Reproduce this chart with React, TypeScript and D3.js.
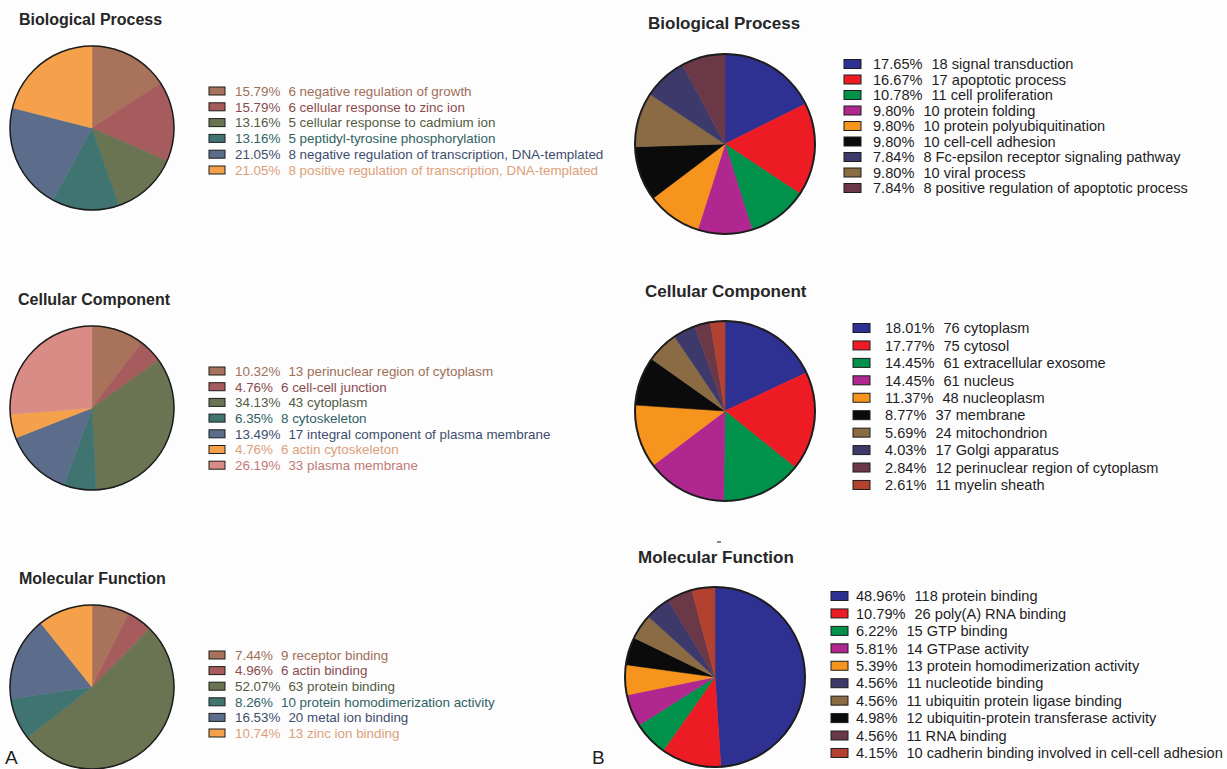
import React from 'react';
import * as d3 from 'd3';

const W = 1227;
const H = 769;

// ---------- Panel A (muted palette, legend text tinted per category) ----------
const mutedFill = ['#a8735a', '#a65b5c', '#6b7452', '#3f7471', '#5b6d8b', '#f5a14c', '#d98b86'];
const mutedText = ['#a06f58', '#8a4b4d', '#525c3e', '#2f6262', '#3d4d6c', '#dca078', '#c27b75'];

const aBpTerms = [
  'negative regulation of growth',
  'cellular response to zinc ion',
  'cellular response to cadmium ion',
  'peptidyl-tyrosine phosphorylation',
  'negative regulation of transcription, DNA-templated',
  'positive regulation of transcription, DNA-templated',
];
const aBpCounts = [6, 6, 5, 5, 8, 8];
const aBpPercents = [15.79, 15.79, 13.16, 13.16, 21.05, 21.05];

const aCcTerms = [
  'perinuclear region of cytoplasm',
  'cell-cell junction',
  'cytoplasm',
  'cytoskeleton',
  'integral component of plasma membrane',
  'actin cytoskeleton',
  'plasma membrane',
];
const aCcCounts = [13, 6, 43, 8, 17, 6, 33];
const aCcPercents = [10.32, 4.76, 34.13, 6.35, 13.49, 4.76, 26.19];

const aMfTerms = [
  'receptor binding',
  'actin binding',
  'protein binding',
  'protein homodimerization activity',
  'metal ion binding',
  'zinc ion binding',
];
const aMfCounts = [9, 6, 63, 10, 20, 13];
const aMfPercents = [7.44, 4.96, 52.07, 8.26, 16.53, 10.74];

// ---------- Panel B (vivid palette) ----------
const vivid: Record<string, string> = {
  blue: '#2e3192',
  red: '#ed1c24',
  green: '#00914a',
  magenta: '#b0288f',
  orange: '#f7941d',
  black: '#0b0b0b',
  navy: '#3d3a6b',
  tan: '#8b6b44',
  maroon: '#6b3848',
  brick: '#b3412f',
};

const bBpTerms = [
  'signal transduction',
  'apoptotic process',
  'cell proliferation',
  'protein folding',
  'protein polyubiquitination',
  'cell-cell adhesion',
  'Fc-epsilon receptor signaling pathway',
  'viral process',
  'positive regulation of apoptotic process',
];
const bBpCounts = [18, 17, 11, 10, 10, 10, 8, 10, 8];
const bBpPercents = [17.65, 16.67, 10.78, 9.8, 9.8, 9.8, 7.84, 9.8, 7.84];
const bBpColors = ['blue', 'red', 'green', 'magenta', 'orange', 'black', 'navy', 'tan', 'maroon'];
const bBpPieOrder = [0, 1, 2, 3, 4, 5, 7, 6, 8];

const bCcTerms = [
  'cytoplasm',
  'cytosol',
  'extracellular exosome',
  'nucleus',
  'nucleoplasm',
  'membrane',
  'mitochondrion',
  'Golgi apparatus',
  'perinuclear region of cytoplasm',
  'myelin sheath',
];
const bCcCounts = [76, 75, 61, 61, 48, 37, 24, 17, 12, 11];
const bCcPercents = [18.01, 17.77, 14.45, 14.45, 11.37, 8.77, 5.69, 4.03, 2.84, 2.61];
const bCcColors = ['blue', 'red', 'green', 'magenta', 'orange', 'black', 'tan', 'navy', 'maroon', 'brick'];
const bCcPieOrder = [0, 1, 2, 3, 4, 5, 6, 7, 8, 9];

const bMfTerms = [
  'protein binding',
  'poly(A) RNA binding',
  'GTP binding',
  'GTPase activity',
  'protein homodimerization activity',
  'nucleotide binding',
  'ubiquitin protein ligase binding',
  'ubiquitin-protein transferase activity',
  'RNA binding',
  'cadherin binding involved in cell-cell adhesion',
];
const bMfCounts = [118, 26, 15, 14, 13, 11, 11, 12, 11, 10];
const bMfPercents = [48.96, 10.79, 6.22, 5.81, 5.39, 4.56, 4.56, 4.98, 4.56, 4.15];
const bMfColors = ['blue', 'red', 'green', 'magenta', 'orange', 'navy', 'tan', 'black', 'maroon', 'brick'];
const bMfPieOrder = [0, 1, 2, 3, 4, 7, 6, 5, 8, 9];

const FONT = '"Liberation Sans", Arial, Helvetica, sans-serif';

type PieProps = {
  cx: number;
  cy: number;
  r: number;
  values: number[];
  fills: string[];
  outlineWidth: number;
};

function Pie({ cx, cy, r, values, fills, outlineWidth }: PieProps) {
  const arcs = d3.pie<number>().sort(null).value((d) => d)(values);
  const arc = d3.arc<d3.PieArcDatum<number>>().innerRadius(0).outerRadius(r);
  return (
    <g transform={`translate(${cx},${cy})`}>
      {arcs.map((a, i) => (
        <path key={i} d={arc(a) || ''} fill={fills[i]} stroke={fills[i]} strokeWidth={0.6} />
      ))}
      <circle r={r} fill="none" stroke="#1d1d1d" strokeWidth={outlineWidth} />
    </g>
  );
}

type LegendProps = {
  x: number;
  textX: number;
  y0: number;
  step: number;
  boxW: number;
  boxH: number;
  fontSize: number;
  gap: number;
  percents: number[];
  counts: number[];
  terms: string[];
  fills: string[];
  textColors: string[];
};

function Legend(p: LegendProps) {
  return (
    <g fontFamily={FONT} fontSize={p.fontSize}>
      {p.terms.map((t, i) => {
        const cy = p.y0 + i * p.step;
        return (
          <g key={i}>
            <rect
              x={p.x}
              y={cy - p.boxH / 2}
              width={p.boxW}
              height={p.boxH}
              fill={p.fills[i]}
              stroke="#1d1d1d"
              strokeWidth={1}
            />
            <text x={p.textX} y={cy + p.fontSize * 0.36} fill={p.textColors[i]}>
              {`${p.percents[i].toFixed(2)}%`}
              <tspan dx={p.gap}>{`${p.counts[i]} ${t}`}</tspan>
            </text>
          </g>
        );
      })}
    </g>
  );
}

function Title({ x, y, size, children }: { x: number; y: number; size: number; children: string }) {
  return (
    <text x={x} y={y} fontFamily={FONT} fontSize={size} fontWeight="bold" fill="#262626">
      {children}
    </text>
  );
}

export default function App() {
  const rA = 82;
  const rB = 90;
  const bBlack = (n: number) => Array(n).fill('#1e1e1e');
  const pick = (order: number[], arr: any[]) => order.map((i) => arr[i]);

  return (
    <svg
      width={W}
      height={H}
      viewBox={`0 0 ${W} ${H}`}
      style={{ position: 'absolute', left: 0, top: 0, background: '#fdfdfe' }}
    >
      <rect width={W} height={H} fill="#fdfdfe" />

      {/* A: Biological Process */}
      <Title x={19} y={25} size={16}>Biological Process</Title>
      <Pie cx={92} cy={128} r={rA} values={aBpPercents} fills={mutedFill.slice(0, 6)} outlineWidth={1.5} />
      <Legend
        x={209} textX={235} y0={91} step={15.8} boxW={16} boxH={8} fontSize={13.4} gap={8}
        percents={aBpPercents} counts={aBpCounts} terms={aBpTerms}
        fills={mutedFill.slice(0, 6)} textColors={mutedText.slice(0, 6)}
      />

      {/* A: Cellular Component */}
      <Title x={18} y={305} size={16}>Cellular Component</Title>
      <Pie cx={92} cy={408} r={rA} values={aCcPercents} fills={mutedFill} outlineWidth={1.5} />
      <Legend
        x={209} textX={235} y0={371} step={15.7} boxW={16} boxH={8} fontSize={13.4} gap={8}
        percents={aCcPercents} counts={aCcCounts} terms={aCcTerms}
        fills={mutedFill} textColors={mutedText}
      />

      {/* A: Molecular Function */}
      <Title x={19} y={584} size={16}>Molecular Function</Title>
      <Pie cx={92} cy={687} r={rA} values={aMfPercents} fills={mutedFill.slice(0, 6)} outlineWidth={1.5} />
      <Legend
        x={209} textX={235} y0={655} step={15.6} boxW={16} boxH={8} fontSize={13.4} gap={8}
        percents={aMfPercents} counts={aMfCounts} terms={aMfTerms}
        fills={mutedFill.slice(0, 6)} textColors={mutedText.slice(0, 6)}
      />

      {/* B: Biological Process */}
      <Title x={648} y={29} size={17}>Biological Process</Title>
      <Pie
        cx={725} cy={144} r={rB}
        values={pick(bBpPieOrder, bBpPercents)}
        fills={pick(bBpPieOrder, bBpColors).map((c: string) => vivid[c])}
        outlineWidth={2}
      />
      <Legend
        x={844} textX={873} y0={64} step={15.5} boxW={17} boxH={9} fontSize={14.6} gap={9}
        percents={bBpPercents} counts={bBpCounts} terms={bBpTerms}
        fills={bBpColors.map((c) => vivid[c])} textColors={bBlack(bBpTerms.length)}
      />

      {/* B: Cellular Component */}
      <Title x={645} y={297} size={17}>Cellular Component</Title>
      <Pie
        cx={725} cy={411} r={rB}
        values={pick(bCcPieOrder, bCcPercents)}
        fills={pick(bCcPieOrder, bCcColors).map((c: string) => vivid[c])}
        outlineWidth={2}
      />
      <Legend
        x={853} textX={885} y0={328} step={17.44} boxW={17} boxH={9} fontSize={14.6} gap={9}
        percents={bCcPercents} counts={bCcCounts} terms={bCcTerms}
        fills={bCcColors.map((c) => vivid[c])} textColors={bBlack(bCcTerms.length)}
      />

      {/* B: Molecular Function */}
      <line x1={717} x2={721} y1={542} y2={542} stroke="#333" strokeWidth={1.2} />
      <Title x={638} y={563} size={17}>Molecular Function</Title>
      <Pie
        cx={715} cy={677} r={rB}
        values={pick(bMfPieOrder, bMfPercents)}
        fills={pick(bMfPieOrder, bMfColors).map((c: string) => vivid[c])}
        outlineWidth={2}
      />
      <Legend
        x={831} textX={856} y0={596} step={17.44} boxW={17} boxH={9} fontSize={14.6} gap={9}
        percents={bMfPercents} counts={bMfCounts} terms={bMfTerms}
        fills={bMfColors.map((c) => vivid[c])} textColors={bBlack(bMfTerms.length)}
      />

      {/* Panel letters */}
      <text x={5} y={764} fontFamily={FONT} fontSize={19} fill="#1e1e1e">A</text>
      <text x={592} y={764} fontFamily={FONT} fontSize={19} fill="#1e1e1e">B</text>
    </svg>
  );
}
